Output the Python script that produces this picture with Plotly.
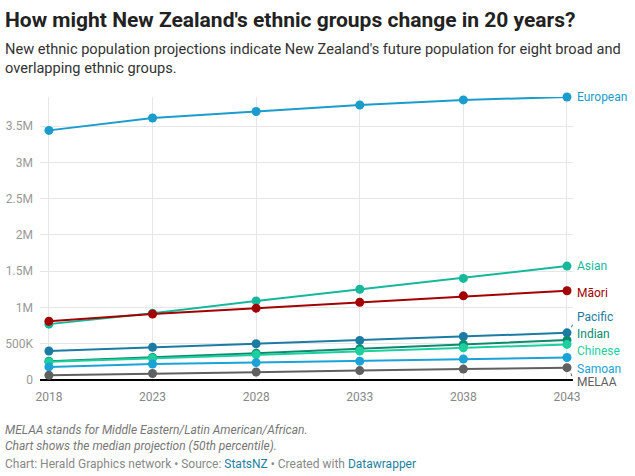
import plotly.graph_objects as go

years = [2018, 2023, 2028, 2033, 2038, 2043]

european = [3440000, 3610000, 3700000, 3790000, 3860000, 3900000]
asian    = [770000, 920000, 1090000, 1250000, 1400000, 1570000]
maori    = [810000, 910000, 990000, 1070000, 1160000, 1230000]
pacific  = [400000, 450000, 500000, 546000, 600000, 650000]
indian   = [260000, 310000, 370000, 430000, 490000, 550000]
chinese  = [250000, 300000, 350000, 400000, 445000, 490000]
samoan   = [180000, 220000, 240000, 260000, 290000, 310000]
melaa    = [65000, 90000, 110000, 130000, 150000, 170000]

series_names = ["European", "Asian", "Māori", "Pacific", "Indian", "Chinese", "Samoan", "MELAA"]
series_values = [european, asian, maori, pacific, indian, chinese, samoan, melaa]
series_colors = ["#1a9ccc", "#15b89b", "#a30000", "#1b7ba3", "#0b8a6e", "#1dcf9f", "#19a3d6", "#606060"]
label_shift = [0, 0, -2, 16, 6, -7, -11, -14]
leader = [None, None, None, (2, 9, 0, 16), None, (2, 5, 0, -5), None, (2, 6, 0, -12)]

y_tick_vals = [0, 500000, 1000000, 1500000, 2000000, 2500000, 3000000, 3500000]
y_tick_text = ["0", "500K", "1M", "1.5M", "2M", "2.5M", "3M", "3.5M"]

FONT = "Roboto, Lato, sans-serif"

fig = go.Figure()
for name, vals, col in zip(series_names, series_values, series_colors):
    fig.add_trace(go.Scatter(
        x=years, y=vals, mode="lines+markers", name=name,
        line=dict(color=col, width=2),
        marker=dict(color=col, size=9),
        hoverinfo="x+y+name", showlegend=False, cliponaxis=False,
    ))

annotations = []
shapes = []
for name, vals, col, sh, ld in zip(series_names, series_values, series_colors, label_shift, leader):
    annotations.append(dict(
        x=years[-1], y=vals[-1], xref="x", yref="y", text=name,
        showarrow=False, xanchor="left", yanchor="middle",
        xshift=8, yshift=sh, font=dict(family=FONT, size=12, color=col),
    ))
    if ld is not None:
        x0, x1, y0, y1 = ld
        shapes.append(dict(
            type="line", xref="x", yref="y",
            xsizemode="pixel", ysizemode="pixel",
            xanchor=years[-1], yanchor=vals[-1],
            x0=x0, x1=x1, y0=y0, y1=y1,
            line=dict(color=col, width=1, dash="dot"),
        ))

L, R, T, B = 40, 62, 97, 96
PW = 635 - L - R
PH = 476 - T - B

def px(x):
    return (x - L) / PW

def py(y):
    return (476 - B - y) / PH

annotations += [
    dict(x=px(3), y=py(20), xref="paper", yref="paper", xanchor="left", yanchor="middle",
         text="<b>How might New Zealand's ethnic groups change in 20 years?</b>",
         showarrow=False, font=dict(family=FONT, size=21, color="#222222")),
    dict(x=px(3), y=py(59), xref="paper", yref="paper", xanchor="left", yanchor="middle",
         text="New ethnic population projections indicate New Zealand's future population for eight broad and<br>overlapping ethnic groups.",
         showarrow=False, align="left", font=dict(family=FONT, size=14.6, color="#333333")),
    dict(x=px(3), y=py(438), xref="paper", yref="paper", xanchor="left", yanchor="middle",
         text="<i>MELAA stands for Middle Eastern/Latin American/African.<br>Chart shows the median projection (50th percentile).</i>",
         showarrow=False, align="left", font=dict(family=FONT, size=12, color="#777777")),
    dict(x=px(3), y=py(464), xref="paper", yref="paper", xanchor="left", yanchor="middle",
         text="Chart: Herald Graphics network • Source: <span style='color:#1d81a2'>StatsNZ</span> • Created with <span style='color:#1d81a2'>Datawrapper</span>",
         showarrow=False, align="left", font=dict(family=FONT, size=12, color="#888888")),
]

fig.update_layout(
    width=635, height=476,
    margin=dict(l=L, r=R, t=T, b=B, autoexpand=False),
    paper_bgcolor="white", plot_bgcolor="white",
    font=dict(family=FONT, color="#999999", size=12),
    annotations=annotations, shapes=shapes,
    xaxis=dict(
        range=[2017.57, 2043.29], tickvals=years, ticktext=[str(y) for y in years],
        showgrid=True, gridcolor="#e6e6e6", gridwidth=1, zeroline=False,
        showline=False, ticks="", ticklabelstandoff=8,
        tickfont=dict(family=FONT, size=12, color="#888888"),
        fixedrange=True, automargin=False,
    ),
    yaxis=dict(
        range=[0, 3900000], tickvals=y_tick_vals, ticktext=y_tick_text,
        showgrid=True, gridcolor="#e6e6e6", gridwidth=1,
        zeroline=True, zerolinecolor="#000000", zerolinewidth=1.5,
        showline=False, ticks="", ticklabelstandoff=6,
        tickfont=dict(family=FONT, size=12, color="#999999"),
        fixedrange=True, automargin=False,
    ),
)

fig.write_html("out.html", config={"displayModeBar": False},
               post_script="document.body.style.margin='0';document.body.style.padding='0';")
